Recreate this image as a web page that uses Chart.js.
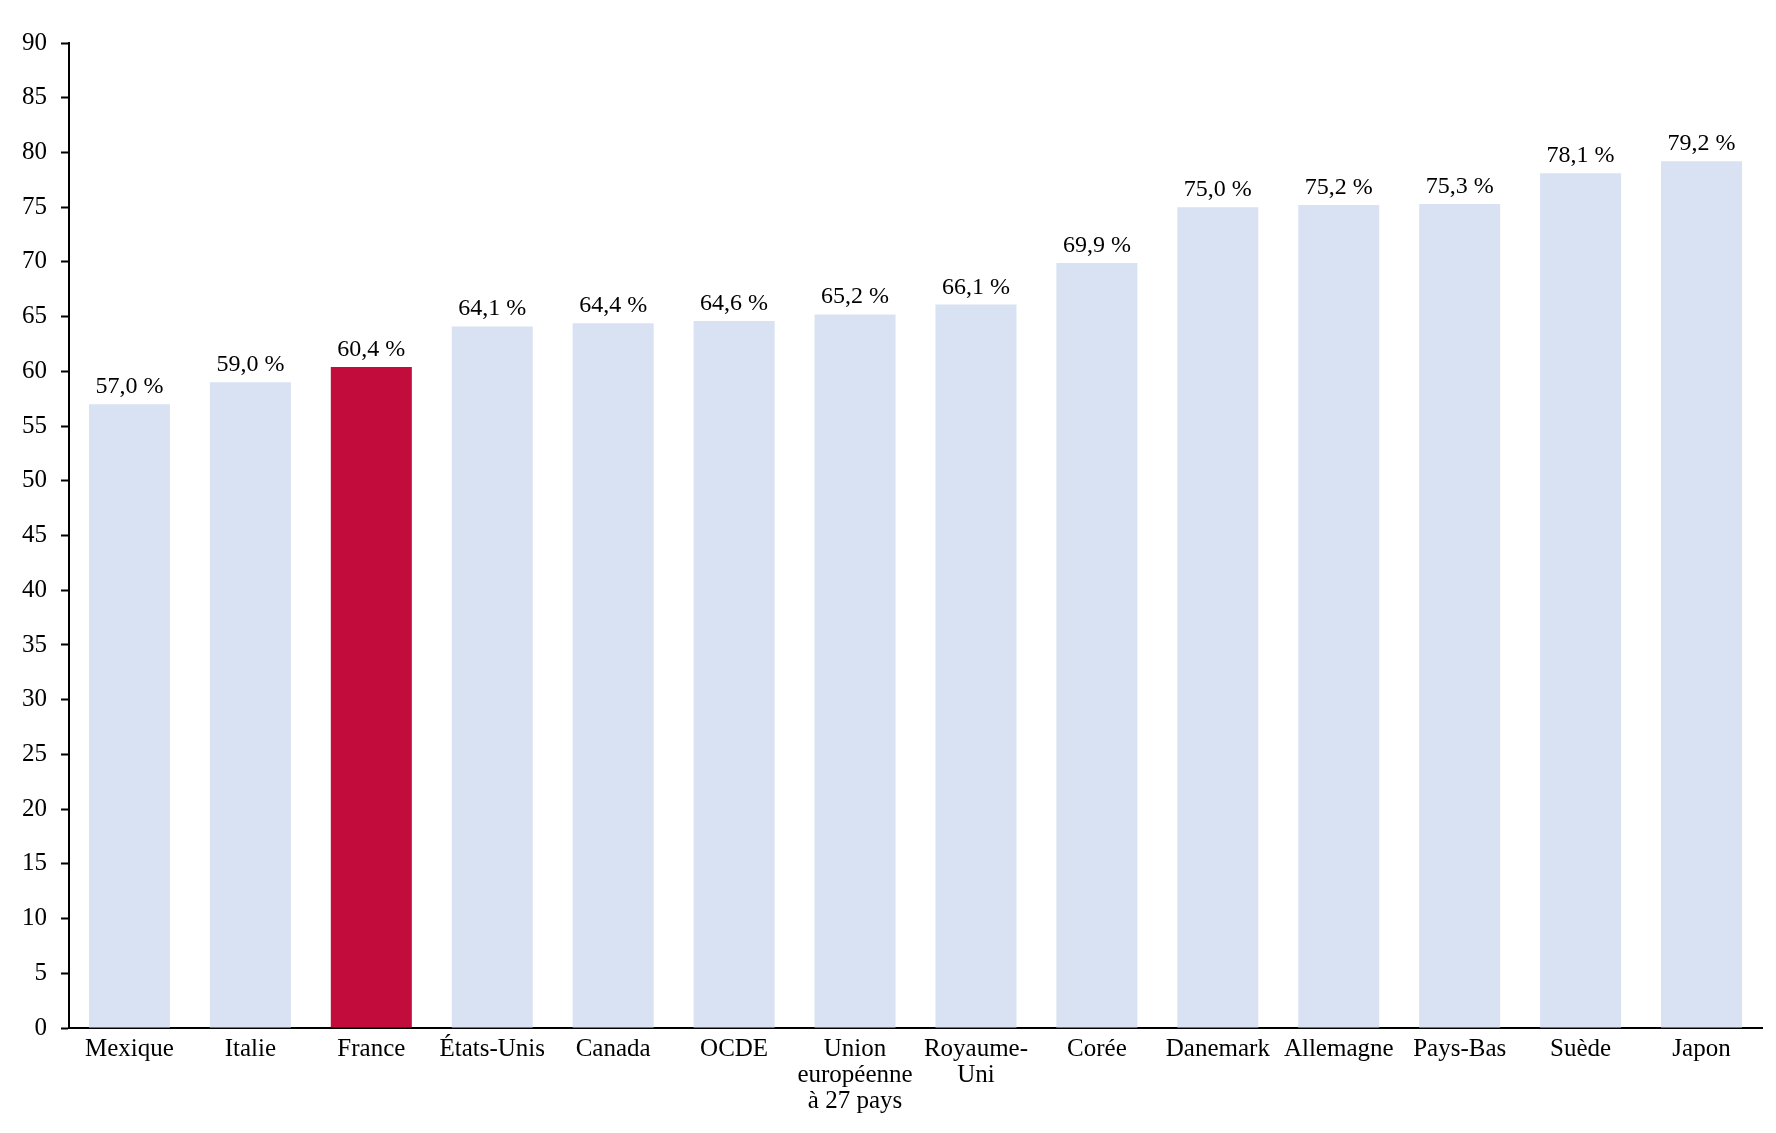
<!DOCTYPE html>
<html>
<head>
<meta charset="utf-8">
<script src="https://cdn.jsdelivr.net/npm/chart.js@4"></script>
<style>
  html, body { margin: 0; padding: 0; background: #fff; }
  #wrap { width: 1776px; height: 1133px; }
</style>
</head>
<body>
<div id="wrap"><canvas id="myChart"></canvas></div>
<script>
const pays = ['Mexique', 'Italie', 'France', 'États-Unis', 'Canada', 'OCDE',
    ['Union', 'européenne', 'à 27 pays'], ['Royaume-', 'Uni'], 'Corée',
    'Danemark', 'Allemagne', 'Pays-Bas', 'Suède', 'Japon'];
const taux = [57.0, 59.0, 60.4, 64.1, 64.4, 64.6, 65.2, 66.1, 69.9, 75.0, 75.2, 75.3, 78.1, 79.2];
const enEvidence = 'France';

const police = "'Liberation Serif', serif";
const couleurs = pays.map(p => p === enEvidence ? '#C20D3C' : '#D9E2F3');

// étiquettes de valeur au-dessus des barres
const etiquettes = {
    id: 'etiquettes',
    afterDatasetsDraw(chart) {
        const ctx = chart.ctx;
        const meta = chart.getDatasetMeta(0);
        ctx.save();
        ctx.font = '24px ' + police;
        ctx.fillStyle = '#000';
        ctx.textAlign = 'center';
        ctx.textBaseline = 'alphabetic';
        meta.data.forEach((bar, i) => {
            const txt = taux[i].toFixed(1).replace('.', ',') + ' %';
            ctx.fillText(txt, bar.x, bar.y - 11);
        });
        ctx.restore();
    }
};

const ctx = document.getElementById('myChart');
new Chart(ctx, {
    type: 'bar',
    data: {
        labels: pays,
        datasets: [{
            data: taux,
            backgroundColor: couleurs,
            borderWidth: 0,
            barPercentage: 0.67,
            categoryPercentage: 1
        }]
    },
    plugins: [etiquettes],
    options: {
        responsive: true,
        maintainAspectRatio: false,
        animation: false,
        layout: { padding: { top: 43, right: 14, left: 0, bottom: 0 } },
        plugins: {
            legend: { display: false },
            tooltip: { enabled: false }
        },
        scales: {
            x: {
                grid: { display: false },
                border: { color: '#000', width: 2 },
                ticks: {
                    color: '#000',
                    font: { family: police, size: 25, lineHeight: 1.05 },
                    padding: 0,
                    maxRotation: 0,
                    autoSkip: false
                },
                afterFit(scale) { scale.height = 105; }
            },
            y: {
                min: 0,
                max: 90,
                grid: {
                    drawOnChartArea: false,
                    drawTicks: true,
                    tickLength: 8,
                    tickColor: '#000',
                    tickWidth: 2
                },
                border: { color: '#000', width: 2 },
                ticks: {
                    stepSize: 5,
                    color: '#000',
                    padding: 14,
                    font: { family: police, size: 25 }
                },
                afterFit(scale) { scale.width = 69; }
            }
        }
    }
});
</script>
</body>
</html>
